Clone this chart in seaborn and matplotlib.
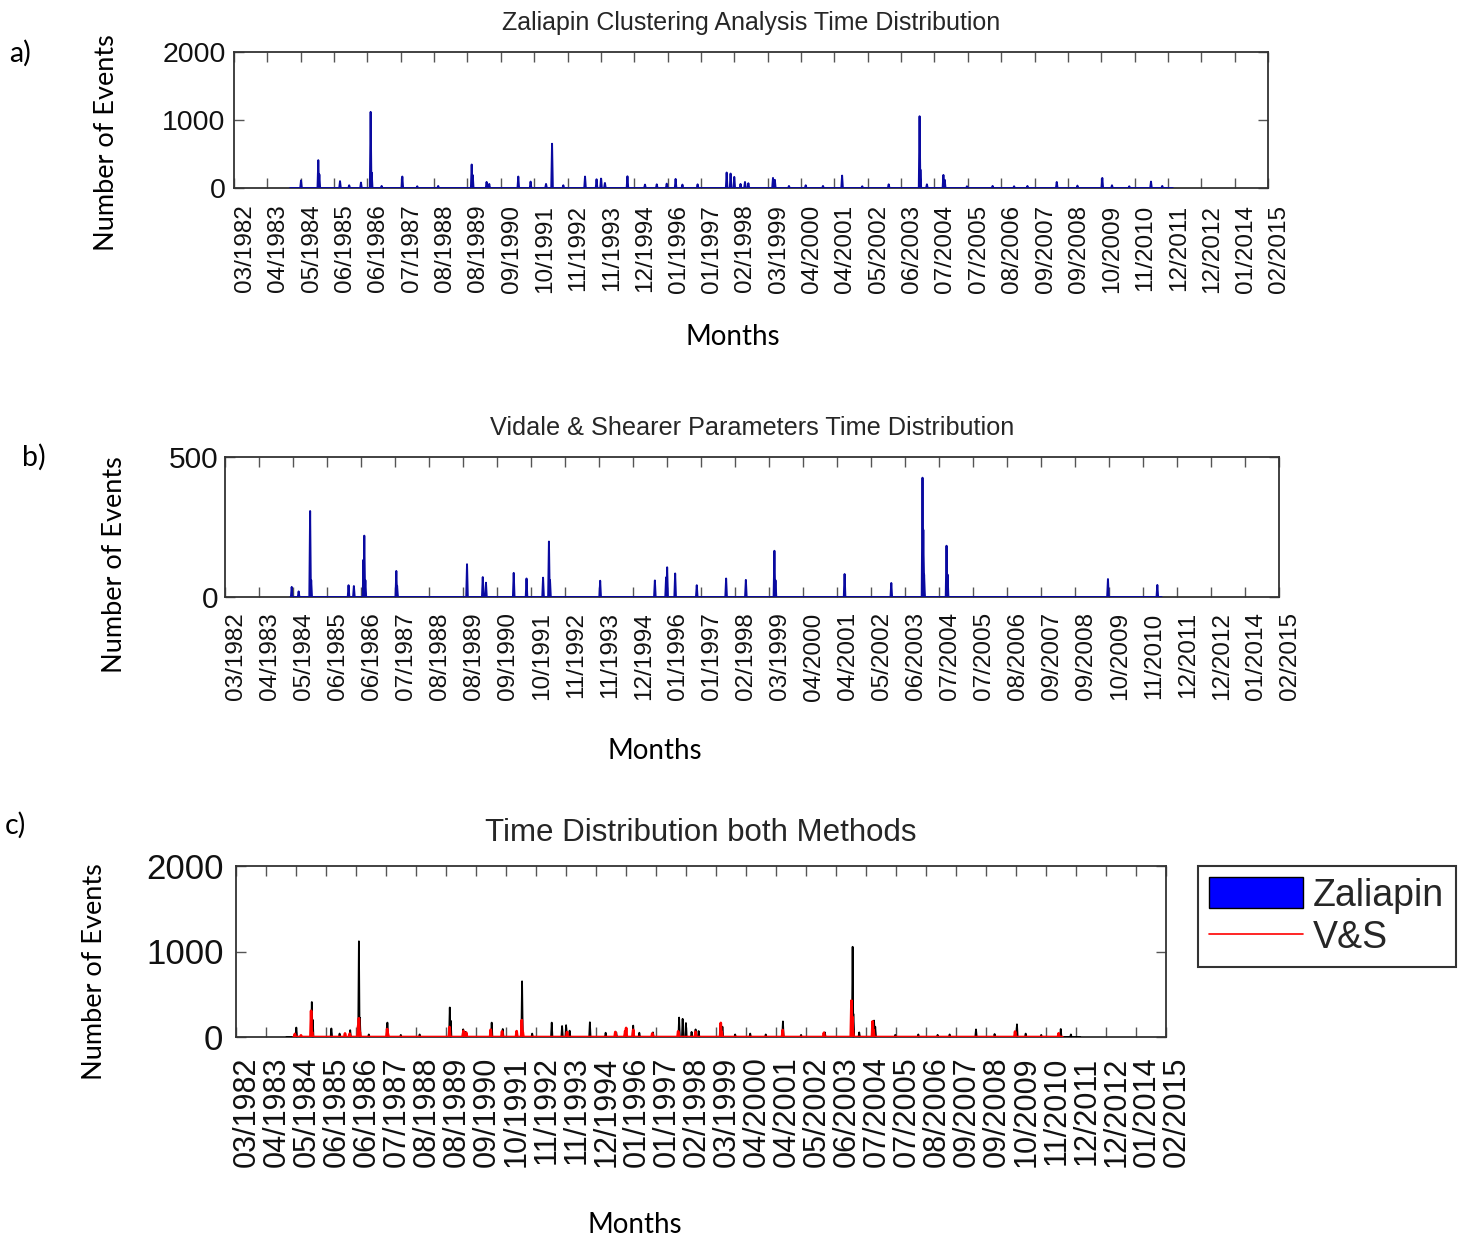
import numpy as np
import pandas as pd
import matplotlib
matplotlib.use("Agg")
import matplotlib.pyplot as plt
import matplotlib.transforms as mtransforms
from matplotlib.patches import Patch
from matplotlib.lines import Line2D
import seaborn as sns

# ---------------- data ----------------
# x axis: months since 03/1982 (0 .. 395)
tick_labels = ["03/1982", "04/1983", "05/1984", "06/1985", "06/1986", "07/1987",
               "08/1988", "08/1989", "09/1990", "10/1991", "11/1992", "11/1993",
               "12/1994", "01/1996", "01/1997", "02/1998", "03/1999", "04/2000",
               "04/2001", "05/2002", "06/2003", "07/2004", "07/2005", "08/2006",
               "09/2007", "09/2008", "10/2009", "11/2010", "12/2011", "12/2012",
               "01/2014", "02/2015"]
month_range = (0, 395)

# Zaliapin clustering: event counts (month index, count)
zal_month = [25.6, 32.2, 32.6, 40.5, 44.0, 48.5, 52.2, 52.6, 56.4, 64.3, 70.0, 78.0,
             90.8, 91.2, 96.5, 97.5, 108.6, 113.3, 119.2, 121.5, 125.8, 134.1, 138.5,
             140.2, 141.7, 150.3, 157.0, 161.5, 165.3, 168.7, 171.3, 177.1, 188.2,
             189.7, 191.1, 193.5, 195.2, 196.5, 205.9, 206.6, 212.0, 218.4, 225.0,
             232.3, 240.0, 250.1, 261.9, 262.2, 264.7, 271.0, 271.5, 280.0, 289.8,
             298.0, 303.1, 314.3, 322.2, 331.7, 335.4, 342.0, 350.3, 354.6]
zal_count = [110, 409, 200, 100, 40, 80, 1119, 225, 30, 168, 25, 30,
             345, 190, 90, 60, 168, 94, 60, 651, 40, 168, 128,
             138, 74, 172, 50, 54, 64, 133, 50, 54, 227,
             212, 163, 60, 89, 70, 148, 120, 30, 40, 30,
             182, 25, 54, 1055, 271, 54, 192, 120, 25, 30,
             25, 30, 89, 35, 148, 40, 25, 94, 30]
zal_span = (21.4, 358.6)

# Vidale & Shearer parameters: event counts (month index, count)
vs_month = [25.0, 27.6, 31.9, 32.3, 46.3, 48.3, 51.9, 52.2, 52.6, 64.2, 64.5, 90.7,
            96.6, 97.8, 108.2, 113.0, 119.2, 121.4, 121.8, 140.6, 161.1, 165.3,
            165.7, 168.7, 176.8, 187.8, 195.2, 205.9, 206.3, 232.2, 249.7, 261.4,
            261.7, 262.0, 270.4, 270.8, 330.9, 349.4]
vs_count = [36, 20, 307, 60, 42, 39, 133, 219, 60, 93, 40, 117,
            71, 51, 86, 66, 69, 198, 60, 58, 59, 70,
            106, 84, 42, 66, 61, 165, 60, 82, 50, 426,
            240, 80, 183, 80, 64, 43]
vs_span = (24.5, 351.0)


def spike_frame(months, counts, span, half=0.3):
    xs, ys = [span[0]], [0]
    for m, c in sorted(zip(months, counts)):
        xs += [m - half, m, m + half]
        ys += [0, c, 0]
    xs.append(span[1])
    ys.append(0)
    return pd.DataFrame({"month": xs, "count": ys})


zal_df = spike_frame(zal_month, zal_count, zal_span)
vs_df = spike_frame(vs_month, vs_count, vs_span)

# ---------------- style ----------------
sns.set_theme(style="white")
plt.rcParams["font.family"] = ["Liberation Sans", "DejaVu Sans"]
LABEL_FONT = ["Lato", "DejaVu Sans"]

W, H = 1468, 1239
fig = plt.figure(figsize=(W / 100, H / 100), dpi=100)
fig.patch.set_facecolor("white")

BLUE = "#0a0aa0"


def frame(left, right, top, bottom):
    return fig.add_axes([left / W, 1 - bottom / H, (right - left) / W, (bottom - top) / H])


def style_axis(ax, yticks, xfs, yfs, xpad, ypad):
    ax.set_xlim(*month_range)
    ax.set_ylim(yticks[0], yticks[-1])
    ticks = np.linspace(month_range[0], month_range[1], len(tick_labels))
    ax.set_xticks(ticks)
    ax.set_xticklabels(tick_labels, rotation=90, ha="center", va="top", fontsize=xfs)
    ax.set_yticks(yticks)
    ax.set_yticklabels([str(v) for v in yticks], fontsize=yfs)
    ax.tick_params(axis="x", direction="in", top=True, bottom=True, length=7,
                   width=1.0, color="#555555", pad=xpad, labelcolor="#111111")
    ax.tick_params(axis="y", direction="in", left=True, right=True, length=7,
                   width=1.0, color="#555555", pad=ypad, labelcolor="#111111")
    offset = mtransforms.ScaledTranslation(11 / 100, 0, fig.dpi_scale_trans)
    for lab in ax.get_xticklabels():
        lab.set_transform(lab.get_transform() + offset)
    for s in ax.spines.values():
        s.set_visible(True)
        s.set_color("#333333")
        s.set_linewidth(1.3)
    ax.set_xlabel("")
    ax.set_ylabel("")
    ax.grid(False)


# ---------------- panel a ----------------
ax_a = frame(234, 1268, 52, 188)
sns.lineplot(data=zal_df, x="month", y="count", sort=False, estimator=None,
             color=BLUE, lw=1.4, ax=ax_a, zorder=3)
style_axis(ax_a, [0, 1000, 2000], 17.5, 20.5, 12, 6)
ax_a.set_title("Zaliapin Clustering Analysis Time Distribution", fontsize=18, pad=16)

# ---------------- panel b ----------------
ax_b = frame(225, 1279, 457, 597)
sns.lineplot(data=vs_df, x="month", y="count", sort=False, estimator=None,
             color=BLUE, lw=1.4, ax=ax_b, zorder=3)
style_axis(ax_b, [0, 500], 17.5, 21.5, 11, 5)
ax_b.set_title("Vidale & Shearer Parameters Time Distribution", fontsize=18.2, pad=16)

# ---------------- panel c ----------------
ax_c = frame(236, 1166, 866, 1037)
ax_c.fill_between(zal_df["month"], 0, zal_df["count"], color="blue", lw=0, zorder=2)
sns.lineplot(data=zal_df, x="month", y="count", sort=False, estimator=None,
             color="black", lw=1.3, ax=ax_c, zorder=3)
sns.lineplot(data=vs_df, x="month", y="count", sort=False, estimator=None,
             color="red", lw=1.9, ax=ax_c, zorder=4)
style_axis(ax_c, [0, 1000, 2000], 22, 25, 14, 9)
ax_c.set_title("Time Distribution both Methods", fontsize=22.5, pad=18)

handles = [Patch(facecolor="blue", edgecolor="black", linewidth=1.0),
           Line2D([0], [0], color="red", lw=1.2)]
leg = ax_c.legend(handles, ["Zaliapin", "V&S"], loc="upper left",
                  bbox_to_anchor=(1198 / W, 1 - 866 / H), bbox_transform=fig.transFigure,
                  fontsize=27, frameon=True, fancybox=False, edgecolor="black",
                  handlelength=2.5, handleheight=0.9, handletextpad=0.27,
                  borderpad=0.3, labelspacing=0.15, borderaxespad=0)
leg.get_frame().set_linewidth(1.5)

# ---------------- figure labels ----------------
def ftext(x, y, s, size, rot=0):
    fig.text(x / W, 1 - y / H, s, fontsize=size, rotation=rot, ha="center",
             va="center", family=LABEL_FONT, color="black")


ftext(20, 53, "a)", 20.5)
ftext(34, 457, "b)", 20.5)
ftext(15, 825, "c)", 20.5)
ftext(107, 143, "Number of Events", 19.5, 90)
ftext(115, 565, "Number of Events", 19.5, 90)
ftext(95, 972, "Number of Events", 19.5, 90)
ftext(733, 337, "Months", 20)
ftext(655, 751, "Months", 20)
ftext(635, 1225, "Months", 20)

fig.savefig("out.png", dpi=100, facecolor="white")
